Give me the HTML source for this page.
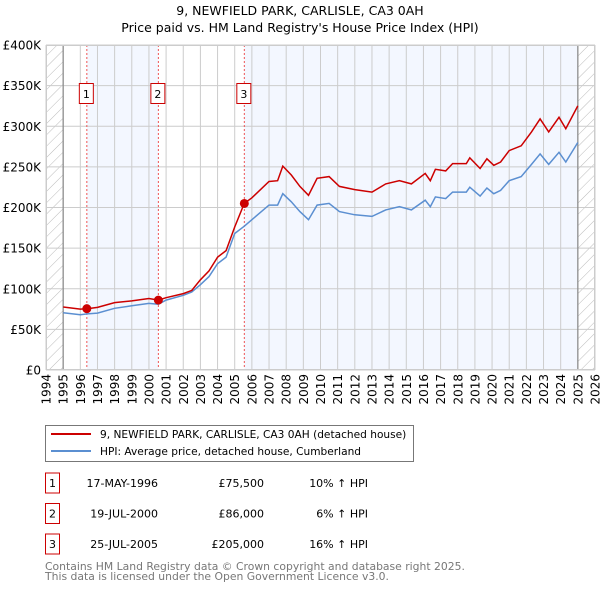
<!DOCTYPE html>
<html><head><meta charset="utf-8"><style>
body{margin:0;background:#fff;font-family:"DejaVu Sans","Liberation Sans",sans-serif;}
svg text{font-family:"DejaVu Sans","Liberation Sans",sans-serif;}
</style></head><body>
<svg id="chart" width="600" height="590" viewBox="0 0 600 590" xmlns="http://www.w3.org/2000/svg">
<defs><pattern id="hatch" width="8" height="8" patternUnits="userSpaceOnUse" patternTransform="rotate(45)"><line x1="0" y1="0" x2="0" y2="8" stroke="#bbb" stroke-width="1"/></pattern></defs>
<text x="300" y="15" text-anchor="middle" font-size="12.5" fill="#000">9, NEWFIELD PARK, CARLISLE, CA3 0AH</text>
<text x="300" y="32" text-anchor="middle" font-size="12.5" fill="#000">Price paid vs. HM Land Registry's House Price Index (HPI)</text>
<g id="plot"></g>
<g id="legend">
<rect x="45.5" y="425.5" width="368" height="36" fill="#fff" stroke="#777"/>
<line x1="51" y1="434" x2="91" y2="434" stroke="#cc0000" stroke-width="2"/>
<text x="100" y="438" font-size="10.6">9, NEWFIELD PARK, CARLISLE, CA3 0AH (detached house)</text>
<line x1="51" y1="451" x2="91" y2="451" stroke="#5b8fd1" stroke-width="2"/>
<text x="100" y="455" font-size="10.6">HPI: Average price, detached house, Cumberland</text>
</g>
<g id="table" font-size="11"></g>
<text x="45" y="570" font-size="10.8" fill="#777">Contains HM Land Registry data © Crown copyright and database right 2025.</text>
<text x="45" y="580" font-size="10.8" fill="#777">This data is licensed under the Open Government Licence v3.0.</text>
</svg>
<script>
const hpiYears=[1995,1996,1996.4,1997,1998,1999,2000,2000.55,2001,2002,2002.5,2003,2003.5,2004,2004.5,2005,2005.56,2006,2007,2007.5,2007.8,2008.3,2008.8,2009.3,2009.8,2010.5,2011.1,2012,2013,2013.8,2014.6,2015.3,2016.1,2016.4,2016.7,2017.3,2017.7,2018.5,2018.7,2019.3,2019.7,2020.1,2020.5,2021,2021.7,2022.3,2022.8,2023.3,2023.9,2024.3,2025];
const hpiValues=[70.5,68,69,70,76,79,82,81,86,92,96,105,115,131,139,168,177,185,203,203,217,207,195,185,203,205,195,191,189,197,201,197,209,201,213,211,219,219,225,214,224,217,221,233,238,253,266,253,268,256,280];
const priceValues=[77.5,75,75.5,77,83,85,88,86,89,94,98,111,122,139,147,176,205,212,232,233,251,240,226,215,236,238,226,222,219,229,233,229,242,233,247,245,254,254,261,248,260,252,256,270,276,293,309,293,311,297,325];
const saleYears=[1996.38,2000.55,2005.56];
const salePrices=[75.5,86,205];
const saleDates=["17-MAY-1996","19-JUL-2000","25-JUL-2005"];
const salePriceLabels=["£75,500","£86,000","£205,000"];
const saleHpiLabels=["10% ↑ HPI","6% ↑ HPI","16% ↑ HPI"];
const yTicks=[0,50,100,150,200,250,300,350,400];
const yTickLabels=["£0","£50K","£100K","£150K","£200K","£250K","£300K","£350K","£400K"];
const xTicks=[1994,1995,1996,1997,1998,1999,2000,2001,2002,2003,2004,2005,2006,2007,2008,2009,2010,2011,2012,2013,2014,2015,2016,2017,2018,2019,2020,2021,2022,2023,2024,2025,2026];

const X0=46,X1=595,Y0=370,Y1=45;
const xs=y=>X0+(y-1994)/(2026-1994)*(X1-X0);
const ys=v=>Y0-v/400*(Y0-Y1);
const NS="http://www.w3.org/2000/svg";
const plot=document.getElementById('plot');
function mk(tag,attrs,parent){const e=document.createElementNS(NS,tag);for(const k in attrs)e.setAttribute(k,attrs[k]);(parent||plot).appendChild(e);return e;}

let r=mk('rect',{x:X0,y:Y1,width:X1-X0,height:Y0-Y1,fill:'#fff'});


r=mk('rect',{x:xs(saleYears[0]),y:Y1,width:xs(saleYears[1])-xs(saleYears[0]),height:Y0-Y1,fill:'#f3f7ff'});


r=mk('rect',{x:xs(saleYears[2]),y:Y1,width:xs(2025)-xs(saleYears[2]),height:Y0-Y1,fill:'#f3f7ff'});


r=mk('rect',{x:xs(1994),y:Y1,width:xs(1995)-xs(1994),height:Y0-Y1,fill:'url(#hatch)'});


r=mk('rect',{x:xs(2025),y:Y1,width:xs(2026)-xs(2025),height:Y0-Y1,fill:'url(#hatch)'});



yTicks.forEach((v,i)=>{
 const l=mk('line',{x1:X0,x2:X1,y1:ys(v),y2:ys(v),stroke:'#ccc','stroke-width':1});
 
 
 const t=mk('text',{x:X0-5,y:ys(v)+4.5,'text-anchor':'end','font-size':12});
 t.textContent=yTickLabels[i];
 
 
});
xTicks.forEach(y=>{
 const l=mk('line',{x1:xs(y),x2:xs(y),y1:Y1,y2:Y0,stroke:'#ccc','stroke-width':1});
 
 
 const t=mk('text',{x:0,y:0,'text-anchor':'end','font-size':12,transform:`translate(${xs(y)+4.5},${Y0+4}) rotate(-90)`});
 t.textContent=y;
 
 
});
[1995,2025].forEach(y=>{
 const l=mk('line',{x1:xs(y),x2:xs(y),y1:Y1,y2:Y0,stroke:'#888','stroke-width':1.2});
 
 
});
saleYears.forEach((y,i)=>{
 const l=mk('line',{x1:xs(y),x2:xs(y),y1:Y1,y2:Y0,stroke:'#e55','stroke-width':1,'stroke-dasharray':'2,2'});
 
 
 const b=mk('rect',{x:xs(y)-7.5,y:83.5,width:14,height:20,fill:'#fff',stroke:'#cc0000'});
 
 
 const t=mk('text',{x:xs(y)-0.5,y:98,'text-anchor':'middle','font-size':11});
 t.textContent=i+1;
 
 
});
const path=vals=>hpiYears.map((y,i)=>(i?'L':'M')+xs(y).toFixed(1)+','+ys(vals[i]).toFixed(1)).join('');
let p=mk('path',{d:path(hpiValues),fill:'none',stroke:'#5b8fd1','stroke-width':1.5});


p=mk('path',{d:path(priceValues),fill:'none',stroke:'#cc0000','stroke-width':1.5});


saleYears.forEach((y,i)=>{
 const c=mk('circle',{cx:xs(y),cy:ys(salePrices[i]),r:4.5,fill:'#cc0000'});
 
 
});
const brd=mk('rect',{x:X0+0.5,y:Y1+0.5,width:X1-X0-1,height:Y0-Y1-1,fill:'none',stroke:'#ccc'});



const tb=document.getElementById('table');
saleDates.forEach((d,i)=>{
 const cy=483+i*30.5;
 const b=mk('rect',{x:45.5,y:cy-10,width:14,height:20,fill:'#fff',stroke:'#cc0000'},tb);
 
 
 let t=mk('text',{x:52.5,y:cy+4,'text-anchor':'middle'},tb);t.textContent=i+1;
 
 
 t=mk('text',{x:158,y:cy+4,'text-anchor':'end'},tb);t.textContent=d;
 
 
 t=mk('text',{x:264,y:cy+4,'text-anchor':'end'},tb);t.textContent=salePriceLabels[i];
 
 
 t=mk('text',{x:368,y:cy+4,'text-anchor':'end'},tb);t.textContent=saleHpiLabels[i];
 
 
});
</script>
</body></html>
